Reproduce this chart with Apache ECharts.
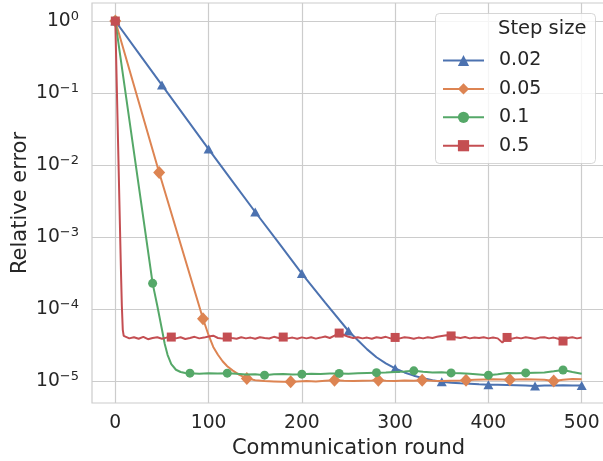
<!DOCTYPE html>
<html><head><meta charset="utf-8">
<script src="https://cdn.jsdelivr.net/npm/echarts@6/dist/echarts.min.js"></script>
<style>html,body{margin:0;padding:0;background:#fff}#c{width:603px;height:461px}</style>
</head><body><div id="c"></div>
<script>
const stepSizes = ['0.02', '0.05', '0.1', '0.5'];
const colors = ['#4C72B0', '#DD8452', '#55A868', '#C44E52'];
const xTicks = [0, 100, 200, 300, 400, 500];
const yTicks = [1e-5, 1e-4, 1e-3, 1e-2, 1e-1, 1];

const rounds002 = [0,25,50,75,100,125,150,175,200,225,250,260,270,280,290,300,310,320,330,340,350,360,370,380,390,400,410,420,430,440,450,460,470,480,490,500];
const err002 = [1,0.359,0.129,0.0464,0.0167,6.1e-3,2.24e-3,8.4e-4,3.13e-4,1.24e-4,5.0e-5,3.72e-5,2.78e-5,2.16e-5,1.78e-5,1.51e-5,1.33e-5,1.20e-5,1.11e-5,1.04e-5,9.9e-6,9.6e-6,9.4e-6,9.25e-6,9.1e-6,9.0e-6,8.95e-6,8.9e-6,8.85e-6,8.8e-6,8.65e-6,8.75e-6,8.8e-6,8.85e-6,8.8e-6,8.8e-6];

const rounds005 = [0,47,94,100,105,110,115,120,126,133,141,150,160,170,180,188,195,205,215,225,235,245,255,265,275,282,290,300,310,320,329,340,350,360,370,376,385,395,405,415,423,430,440,450,460,470,480,490,500];
const err005 = [1,7.9e-3,7.4e-5,4.37e-5,3.0e-5,2.34e-5,1.9e-5,1.62e-5,1.41e-5,1.23e-5,1.10e-5,1.04e-5,1.01e-5,1.0e-5,9.9e-6,9.9e-6,1.0e-5,1.01e-5,1.0e-5,1.02e-5,1.04e-5,1.02e-5,1.01e-5,1.02e-5,1.03e-5,1.04e-5,1.02e-5,1.01e-5,1.03e-5,1.02e-5,1.04e-5,1.02e-5,1.01e-5,1.02e-5,1.03e-5,1.04e-5,1.05e-5,1.06e-5,1.07e-5,1.06e-5,1.05e-5,1.06e-5,1.07e-5,1.06e-5,1.05e-5,1.01e-5,1.05e-5,1.08e-5,1.07e-5];

const rounds01 = [0,40,45,50,53,56,60,65,70,75,80,90,100,110,120,130,140,150,160,170,180,190,200,210,220,230,240,250,260,270,280,290,300,310,320,330,340,350,360,370,380,390,400,410,420,430,440,450,460,470,480,490,500];
const err01 = [1,2.29e-4,1.12e-4,5.25e-5,3.3e-5,2.34e-5,1.74e-5,1.45e-5,1.35e-5,1.31e-5,1.30e-5,1.28e-5,1.30e-5,1.29e-5,1.30e-5,1.28e-5,1.25e-5,1.26e-5,1.22e-5,1.26e-5,1.27e-5,1.25e-5,1.26e-5,1.28e-5,1.27e-5,1.29e-5,1.29e-5,1.28e-5,1.30e-5,1.31e-5,1.32e-5,1.33e-5,1.35e-5,1.37e-5,1.40e-5,1.36e-5,1.33e-5,1.34e-5,1.31e-5,1.30e-5,1.28e-5,1.25e-5,1.22e-5,1.26e-5,1.31e-5,1.30e-5,1.31e-5,1.32e-5,1.33e-5,1.38e-5,1.44e-5,1.35e-5,1.28e-5];

const rounds05 = [0,6,7,8,9,10,15,20,25,30,35,40,45,50,55,60,65,70,75,80,85,90,95,100,105,110,115,120,125,130,135,140,145,150,155,160,165,170,175,180,185,190,195,200,205,210,215,220,225,230,235,240,245,250,255,260,265,270,275,280,285,290,295,300,305,310,315,320,325,330,335,340,345,350,355,360,365,370,375,380,385,390,395,400,405,410,415,420,425,430,435,440,445,450,455,460,465,470,475,480,485,490,495,500];
const err05 = [1,3.6e-4,1.12e-4,5.2e-5,4.27e-5,4.05e-5,3.95e-5,4.1e-5,3.9e-5,4.15e-5,3.85e-5,4.0e-5,4.1e-5,3.9e-5,4.05e-5,4.12e-5,3.95e-5,4.1e-5,3.88e-5,4.0e-5,4.15e-5,3.95e-5,4.05e-5,4.2e-5,4.3e-5,4.0e-5,3.92e-5,4.12e-5,4.0e-5,3.9e-5,4.1e-5,3.95e-5,4.05e-5,3.9e-5,4.1e-5,4.0e-5,3.93e-5,4.15e-5,4.0e-5,4.12e-5,3.95e-5,4.05e-5,3.9e-5,4.08e-5,3.95e-5,4.1e-5,3.92e-5,4.05e-5,4.2e-5,4.0e-5,4.3e-5,4.68e-5,4.4e-5,4.15e-5,4.0e-5,4.1e-5,3.95e-5,4.05e-5,3.9e-5,4.1e-5,4.0e-5,4.15e-5,3.95e-5,4.07e-5,3.95e-5,4.1e-5,4.02e-5,3.9e-5,4.05e-5,3.95e-5,4.1e-5,4.0e-5,4.15e-5,4.25e-5,4.35e-5,4.27e-5,4.1e-5,4.0e-5,4.12e-5,3.95e-5,4.05e-5,4.0e-5,4.1e-5,3.95e-5,4.05e-5,3.95e-5,3.45e-5,4.07e-5,3.9e-5,4.05e-5,3.95e-5,4.1e-5,4.0e-5,3.9e-5,4.05e-5,4.1e-5,3.95e-5,4.05e-5,3.9e-5,3.63e-5,4.0e-5,4.1e-5,3.95e-5,4.05e-5];

const markEvery = [50, 47, 40, 60];
const symbols = ['triangle', 'diamond', 'circle', 'rect'];
const symbolSizes = [[10, 9], [12, 13], 9, 9];

const allRounds = [rounds002, rounds005, rounds01, rounds05];
const allErr = [err002, err005, err01, err05];

const FONT = 'DejaVu Sans';
const TXT = '#262626';

function buildData(rounds, errs, every) {
  return rounds.map((r, i) => (r % every === 0)
    ? { value: [r, errs[i]] }
    : { value: [r, errs[i]], symbol: 'none' });
}

const series = stepSizes.map((name, k) => ({
  name: name,
  type: 'line',
  data: buildData(allRounds[k], allErr[k], markEvery[k]),
  symbol: symbols[k],
  symbolSize: symbolSizes[k],
  showSymbol: true,
  showAllSymbol: true,
  color: colors[k],
  lineStyle: { width: 2, color: colors[k] },
  itemStyle: { color: colors[k] },
  z: 2 + k,
  animation: false
}));

function supLabel(v) {
  const e = Math.round(Math.log10(v));
  const s = e < 0 ? '\u2212' + (-e) : String(e);
  return '{b|10}{s|' + s + '}';
}

const chart = echarts.init(document.getElementById('c'), null, { renderer: 'canvas' });
chart.setOption({
  animation: false,
  backgroundColor: '#ffffff',
  textStyle: { fontFamily: FONT, color: TXT },
  grid: { left: 92, top: 3, width: 513, height: 400, show: true, borderColor: '#cccccc', borderWidth: 1.2, containLabel: false, outerBoundsMode: 'none' },
  xAxis: {
    type: 'value', min: -25, max: 525,
    name: 'Communication round', nameLocation: 'middle', nameGap: 32,
    nameTextStyle: { fontFamily: FONT, fontSize: 21, color: TXT },
    axisLine: { show: false },
    axisTick: { show: false, customValues: xTicks },
    axisLabel: { customValues: xTicks, fontFamily: FONT, fontSize: 18.7, color: TXT, margin: 11 },
    splitLine: { show: true, lineStyle: { color: '#cccccc', width: 1.2 } }
  },
  yAxis: {
    type: 'log', logBase: 10, min: Math.pow(10, -5.3), max: Math.pow(10, 0.25),
    name: 'Relative error', nameLocation: 'middle', nameGap: 61, nameMoveOverlap: false,
    nameTextStyle: { fontFamily: FONT, fontSize: 21, color: TXT },
    axisLine: { show: false },
    axisTick: { show: false, customValues: yTicks },
    axisLabel: {
      customValues: yTicks, margin: 13, formatter: supLabel,
      rich: {
        b: { fontFamily: FONT, fontSize: 18.7, color: TXT, lineHeight: 22 },
        s: { fontFamily: FONT, fontSize: 13, color: TXT, lineHeight: 14, verticalAlign: 'top' }
      }
    },
    splitLine: { show: true, lineStyle: { color: '#cccccc', width: 1.2 } }
  },
  legend: {
    orient: 'vertical', left: 442, top: 51, padding: 0,
    itemWidth: 41, itemHeight: 14, itemGap: 9.4,
    data: stepSizes,
    textStyle: { fontFamily: FONT, fontSize: 19, color: TXT, padding: [0, 0, 0, 10], lineHeight: 14 },
    z: 10
  },
  graphic: [
    { type: 'rect', z: 8, shape: { x: 435.5, y: 13.5, width: 160, height: 150, r: 4 },
      style: { fill: 'rgba(255,255,255,0.8)', stroke: 'rgba(204,204,204,0.8)', lineWidth: 1 } },
    { type: 'text', z: 12, left: 498, top: 19,
      style: { text: 'Step size', fontFamily: FONT, fontSize: 19.5, fill: TXT } }
  ],
  series: series
});
</script>
</body></html>
